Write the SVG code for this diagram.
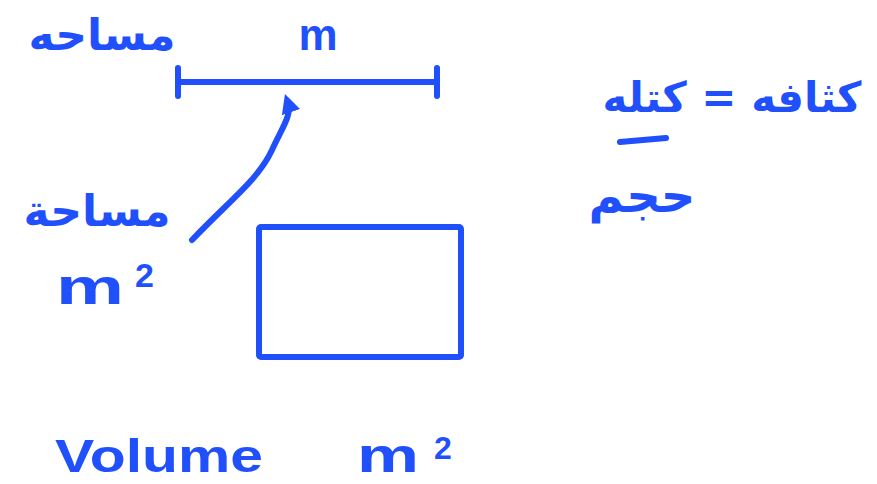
<svg xmlns="http://www.w3.org/2000/svg" width="877" height="484" viewBox="0 0 877 484">
<defs>
<style>
.ink{fill:none;stroke:#1f50fb;stroke-width:6;stroke-linecap:round;stroke-linejoin:round}
.t{fill:#1f50fb;font-family:"Liberation Sans","DejaVu Sans",sans-serif;font-weight:bold}
.ar{fill:#1f50fb;font-family:"DejaVu Sans","Noto Sans",sans-serif;font-weight:bold}
</style>
<marker id="ah" viewBox="0 0 10 10" refX="5" refY="5" markerWidth="3.2" markerHeight="3.2" orient="auto">
<path d="M0,0 L10,5 L0,10 Z" fill="#1f50fb"/>
</marker>
</defs>
<rect width="877" height="484" fill="#ffffff"/>
<g id="label-masaha-top"><text class="ar" x="102" y="50" font-size="44" text-anchor="middle" direction="rtl">مساحه</text></g>
<g id="length-segment">
<text class="t" x="318" y="50" font-size="44" text-anchor="middle">m</text>
<path class="ink" d="M178,82 L437,82 M178,68 L178,96 M437,68 L437,96"/>
</g>
<g id="label-masaha-area">
<text class="ar" x="97" y="226" font-size="44" text-anchor="middle" direction="rtl">مساحة</text>
<text class="t" x="56" y="304" font-size="50" textLength="68" lengthAdjust="spacingAndGlyphs">m</text>
<text class="t" x="135" y="287" font-size="34">2</text>
</g>
<g id="box"><rect class="ink" x="259" y="227" width="202" height="130" rx="2"/></g>
<g id="label-density">
<text class="ar" x="732" y="112" font-size="42" text-anchor="middle" direction="rtl">كثافه = كتله</text>
<path class="ink" d="M620,142 L666,138"/>
<text class="ar" x="642" y="212" font-size="48" text-anchor="middle" direction="rtl">حجم</text>
</g>
<g id="label-volume">
<text class="t" x="55" y="472" font-size="46" textLength="208" lengthAdjust="spacingAndGlyphs">Volume</text>
<text class="t" x="357" y="472" font-size="48" textLength="62" lengthAdjust="spacingAndGlyphs">m</text>
<text class="t" x="434" y="459" font-size="32">2</text>
</g>
<g id="connectors">
<path class="ink" d="M192,240 C230,200 258,180 272,150 C282,128 292,115 288,103" marker-end="url(#ah)"/>
</g>
</svg>
